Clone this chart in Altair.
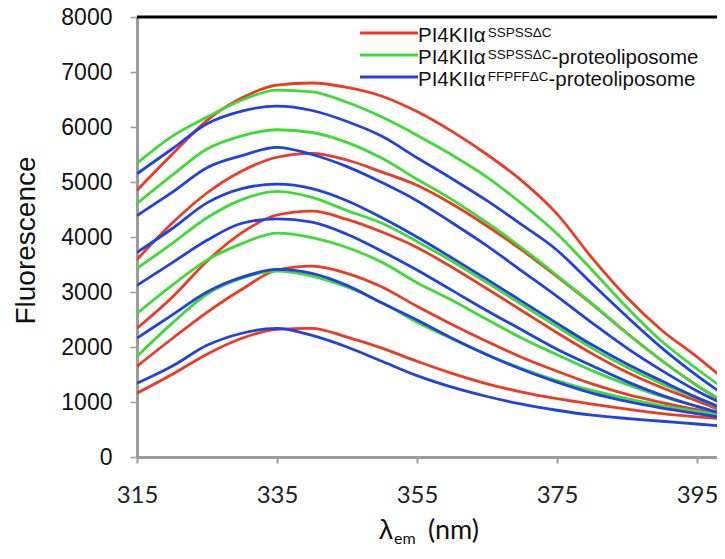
import altair as alt
import pandas as pd

# ---- data ----
wavelength = [315, 320, 325, 330, 335, 340, 345, 350, 355, 360, 365, 370, 375, 380, 385, 390, 395, 399]
x_ticks = [315, 335, 355, 375, 395]
y_ticks = [0, 1000, 2000, 3000, 4000, 5000, 6000, 7000, 8000]

red_1 = [4850, 5500, 6120, 6530, 6760, 6800, 6720, 6560, 6280, 5920, 5500, 5020, 4420, 3620, 2900, 2300, 1820, 1400]
red_2 = [3590, 4250, 4800, 5200, 5450, 5520, 5400, 5180, 4940, 4600, 4200, 3760, 3280, 2780, 2250, 1750, 1300, 980]
red_3 = [2340, 2900, 3560, 4080, 4400, 4470, 4320, 4090, 3810, 3450, 3060, 2660, 2260, 1880, 1540, 1260, 1020, 820]
red_4 = [1650, 2150, 2630, 3050, 3400, 3470, 3340, 3090, 2740, 2410, 2100, 1810, 1560, 1330, 1140, 990, 860, 760]
red_5 = [1160, 1500, 1870, 2160, 2320, 2340, 2180, 1980, 1740, 1520, 1330, 1180, 1060, 960, 870, 790, 730, 690]

green_1 = [5340, 5830, 6180, 6490, 6670, 6640, 6450, 6180, 5850, 5490, 5090, 4600, 4060, 3400, 2720, 2100, 1600, 1230]
green_2 = [4610, 5120, 5600, 5840, 5950, 5900, 5720, 5430, 5050, 4680, 4260, 3800, 3300, 2790, 2250, 1750, 1300, 990]
green_3 = [3430, 3880, 4350, 4680, 4830, 4720, 4480, 4250, 3920, 3560, 3170, 2770, 2370, 1980, 1630, 1330, 1070, 860]
green_4 = [2610, 3120, 3580, 3880, 4070, 3990, 3810, 3540, 3170, 2850, 2500, 2160, 1860, 1570, 1320, 1100, 920, 780]
green_5 = [1830, 2430, 2960, 3250, 3380, 3290, 3090, 2810, 2450, 2150, 1860, 1610, 1390, 1210, 1060, 930, 830, 760]

blue_1 = [5150, 5600, 6060, 6290, 6380, 6300, 6100, 5830, 5440, 5060, 4660, 4220, 3760, 3150, 2550, 1980, 1480, 1120]
blue_2 = [4390, 4810, 5260, 5480, 5630, 5500, 5280, 4990, 4660, 4260, 3840, 3380, 2920, 2440, 1980, 1570, 1200, 950]
blue_3 = [3720, 4150, 4620, 4880, 4960, 4880, 4660, 4350, 4000, 3620, 3230, 2830, 2430, 2040, 1690, 1380, 1080, 870]
blue_4 = [3120, 3530, 3940, 4250, 4330, 4270, 4050, 3740, 3400, 3030, 2660, 2310, 1960, 1660, 1370, 1120, 920, 770]
blue_5 = [2160, 2580, 3000, 3270, 3410, 3340, 3120, 2800, 2490, 2160, 1860, 1590, 1360, 1160, 1010, 890, 790, 710]
blue_6 = [1340, 1650, 2030, 2250, 2340, 2210, 2000, 1740, 1480, 1270, 1100, 960, 850, 760, 700, 650, 600, 560]

group_names = ["SSPSSΔC", "SSPSSΔC-proteoliposome", "FFPFFΔC-proteoliposome"]
group_colors = ["#ee3a22", "#3ddc34", "#2040e8"]

legend_main = ["PI4KIIα", "PI4KIIα", "PI4KIIα"]
legend_sup = ["SSPSSΔC", "SSPSSΔC", "FFPFFΔC"]
legend_suffix = ["", "-proteoliposome", "-proteoliposome"]

series = [
    ("red_1", 0, red_1), ("red_2", 0, red_2), ("red_3", 0, red_3), ("red_4", 0, red_4), ("red_5", 0, red_5),
    ("green_1", 1, green_1), ("green_2", 1, green_2), ("green_3", 1, green_3), ("green_4", 1, green_4),
    ("green_5", 1, green_5),
    ("blue_1", 2, blue_1), ("blue_2", 2, blue_2), ("blue_3", 2, blue_3), ("blue_4", 2, blue_4),
    ("blue_5", 2, blue_5), ("blue_6", 2, blue_6),
]

rows = []
for name, g, vals in series:
    for w, v in zip(wavelength, vals):
        rows.append({"curve": name, "group": group_names[g], "wavelength": w, "fluorescence": v})
df = pd.DataFrame(rows)

PX_PER_NM = 7.0
W, H = 580, 440
X_MIN = 315
X_MAX = X_MIN + W / PX_PER_NM  # plot is cut at the right edge, as in the reference

x_scale = alt.Scale(domain=[X_MIN, X_MAX], nice=False, zero=False)
y_scale = alt.Scale(domain=[0, 8000], nice=False)
AXIS_GREY = "#9c9c9c"

lines = alt.Chart(df).mark_line(strokeWidth=2.8, interpolate="monotone", clip=True).encode(
    x=alt.X("wavelength:Q", scale=x_scale,
            axis=alt.Axis(values=x_ticks, title=None, grid=False, labelFlush=False, labelOverlap=False,
                          domainColor=AXIS_GREY, domainWidth=3, tickColor=AXIS_GREY, tickWidth=2,
                          tickSize=6, labelFont="Lato", labelFontSize=24, labelColor="#222222",
                          labelPadding=20)),
    y=alt.Y("fluorescence:Q", scale=y_scale,
            axis=alt.Axis(values=y_ticks, format="d", grid=False, title="Fluorescence",
                          domainColor=AXIS_GREY, domainWidth=3, tickColor=AXIS_GREY, tickWidth=1.5,
                          tickSize=7, labelFont="Liberation Sans", labelFontSize=23,
                          labelColor="#111111", labelPadding=18,
                          titleFont="Liberation Sans", titleFontSize=28, titleFontWeight="normal",
                          titleColor="#111111", titleAngle=270, titleAlign="center",
                          titleBaseline="middle", titleX=-111, titleY=223)),
    color=alt.Color("group:N", scale=alt.Scale(domain=group_names, range=group_colors), legend=None),
    detail="curve:N",
)

border_df = pd.DataFrame({"x": [X_MIN], "x2": [X_MAX], "y": [8000]})
top_border = alt.Chart(border_df).mark_rule(color="black", strokeWidth=3).encode(
    x=alt.X("x:Q", scale=x_scale), x2="x2:Q", y=alt.Y("y:Q", scale=y_scale)
)

# ---- legend (manual, to allow superscripts) ----
ARIAL = {"P": 667, "I": 278, "4": 556, "K": 667, "α": 578, "S": 667, "Δ": 668, "C": 722, "F": 611,
         "-": 333, "p": 556, "r": 333, "o": 556, "t": 278, "e": 556, "l": 222, "i": 222, "s": 500, "m": 833}


def text_width(s, size):
    return sum(ARIAL.get(c, 556) for c in s) / 1000.0 * size


one = pd.DataFrame({"k": [0]})
layers = [lines, top_border]
LEG_X1, LEG_X2 = 223, 281
leg_ys = [16, 38, 60]
MAIN_SIZE, SUP_SIZE = 20.5, 13.5
for i in range(3):
    ly = leg_ys[i]
    layers.append(alt.Chart(one).mark_rule(color=group_colors[i], strokeWidth=2.8).encode(
        x=alt.value(LEG_X1), x2=alt.value(LEG_X2), y=alt.value(ly)))
    tx = LEG_X2
    layers.append(alt.Chart(one).mark_text(align="left", baseline="alphabetic", font="Liberation Sans",
                                            fontSize=MAIN_SIZE, color="#111111").encode(
        x=alt.value(tx), y=alt.value(ly + 8.5), text=alt.value(legend_main[i])))
    tx += text_width(legend_main[i], MAIN_SIZE) + 2
    layers.append(alt.Chart(one).mark_text(align="left", baseline="alphabetic", font="Liberation Sans",
                                            fontSize=SUP_SIZE, color="#111111").encode(
        x=alt.value(tx), y=alt.value(ly + 4), text=alt.value(legend_sup[i])))
    tx += text_width(legend_sup[i], SUP_SIZE)
    if legend_suffix[i]:
        layers.append(alt.Chart(one).mark_text(align="left", baseline="alphabetic", font="Liberation Sans",
                                                fontSize=MAIN_SIZE, color="#111111").encode(
            x=alt.value(tx), y=alt.value(ly + 8.5), text=alt.value(legend_suffix[i])))

# ---- x axis title: lambda with subscript "em" ----
layers.append(alt.Chart(one).mark_text(align="left", baseline="alphabetic", font="Liberation Sans",
                                        fontSize=28, color="#111111").encode(
    x=alt.value(242), y=alt.value(522), text=alt.value("λ")))
layers.append(alt.Chart(one).mark_text(align="left", baseline="alphabetic", font="Lato",
                                        fontSize=16, color="#111111").encode(
    x=alt.value(257), y=alt.value(527), text=alt.value("em")))
layers.append(alt.Chart(one).mark_text(align="left", baseline="alphabetic", font="Lato",
                                        fontSize=27, color="#111111").encode(
    x=alt.value(291), y=alt.value(522), text=alt.value("(nm)")))

chart = alt.layer(*layers).properties(
    width=W, height=H,
    autosize=alt.AutoSizeParams(type="none"),
    padding={"left": 129, "top": 9, "right": 0, "bottom": 92},
).configure_view(strokeWidth=0)

chart.save("out.html", embed_options={"renderer": "svg", "actions": False})
